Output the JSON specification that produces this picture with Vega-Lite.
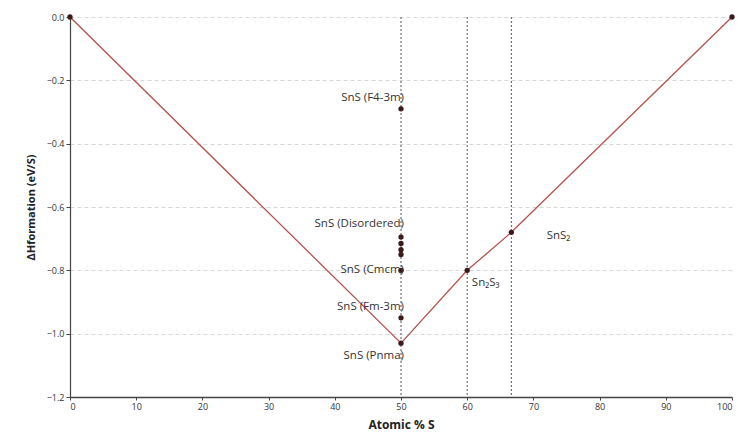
{
  "$schema": "https://vega.github.io/schema/vega-lite/v6.json",
  "width": 662,
  "height": 380,
  "autosize": "none",
  "padding": {"left": 70, "top": 17, "right": 6, "bottom": 40},
  "background": "white",
  "config": {
    "view": {"stroke": null},
    "font": "Open Sans",
    "axis": {"labelFont": "Open Sans", "titleFont": "Open Sans", "labelColor": "#333", "titleColor": "#222", "domainColor": "#444", "tickColor": "#444"}
  },
  "datasets": {
    "hull": [
      {"s": 0, "h": 0},
      {"s": 50, "h": -1.03},
      {"s": 60, "h": -0.8},
      {"s": 66.67, "h": -0.68},
      {"s": 100, "h": 0}
    ],
    "pts": [
      {"s": 0, "h": 0},
      {"s": 50, "h": -0.29},
      {"s": 50, "h": -0.695},
      {"s": 50, "h": -0.715},
      {"s": 50, "h": -0.735},
      {"s": 50, "h": -0.75},
      {"s": 50, "h": -0.8},
      {"s": 50, "h": -0.95},
      {"s": 50, "h": -1.03},
      {"s": 60, "h": -0.8},
      {"s": 66.67, "h": -0.68},
      {"s": 100, "h": 0}
    ],
    "vlines": [{"s": 50}, {"s": 60}, {"s": 66.67}],
    "lbl": [
      {"s": 50, "h": -0.255, "t": "SnS (F4-3m)"},
      {"s": 50, "h": -0.655, "t": "SnS (Disordered)"},
      {"s": 50, "h": -0.8, "t": "SnS (Cmcm)"},
      {"s": 50, "h": -0.915, "t": "SnS (Fm-3m)"},
      {"s": 50, "h": -1.07, "t": "SnS (Pnma)"}
    ],
    "lbl2": [
      {"s": 60.7, "h": -0.84, "t": "Sn₂S₃"},
      {"s": 72.0, "h": -0.69, "t": "SnS₂"}
    ]
  },
  "layer": [
    {
      "data": {"name": "vlines"},
      "mark": {"type": "rule", "color": "#555", "strokeDash": [2, 2], "strokeWidth": 1},
      "encoding": {
        "x": {"field": "s", "type": "quantitative", "scale": {"domain": [0, 100], "nice": false},
          "axis": {"title": "Atomic % S", "titleFontSize": 12, "titleFontWeight": "bold", "titlePadding": 8, "values": [0,10,20,30,40,50,60,70,80,90,100], "labelFontSize": 9, "tickSize": 3, "grid": false, "domainWidth": 1.5}}
      }
    },
    {
      "data": {"name": "hull"},
      "mark": {"type": "line", "color": "#b4524a", "strokeWidth": 1.3},
      "encoding": {
        "x": {"field": "s", "type": "quantitative"},
        "y": {"field": "h", "type": "quantitative", "scale": {"domain": [-1.2, 0], "nice": false},
          "axis": {"title": "ΔHformation  (eV/S)", "titleFontSize": 11, "titleFontWeight": "bold", "titlePadding": 10, "values": [-1.2,-1.0,-0.8,-0.6,-0.4,-0.2,0], "format": ".1f", "labelFontSize": 9, "tickSize": 4, "grid": true, "gridColor": "#d8d8d0", "gridDash": [4, 3], "domainWidth": 1.2}}
      }
    },
    {
      "data": {"name": "pts"},
      "mark": {"type": "circle", "color": "#3a1a1a", "size": 28, "opacity": 1},
      "encoding": {
        "x": {"field": "s", "type": "quantitative"},
        "y": {"field": "h", "type": "quantitative"}
      }
    },
    {
      "data": {"name": "lbl"},
      "mark": {"type": "text", "align": "right", "dx": 3, "fontSize": 11.5, "color": "#333", "baseline": "middle"},
      "encoding": {
        "x": {"field": "s", "type": "quantitative"},
        "y": {"field": "h", "type": "quantitative"},
        "text": {"field": "t"}
      }
    },
    {
      "data": {"name": "lbl2"},
      "mark": {"type": "text", "align": "left", "fontSize": 11.5, "color": "#333", "baseline": "middle"},
      "encoding": {
        "x": {"field": "s", "type": "quantitative"},
        "y": {"field": "h", "type": "quantitative"},
        "text": {"field": "t"}
      }
    }
  ]
}
